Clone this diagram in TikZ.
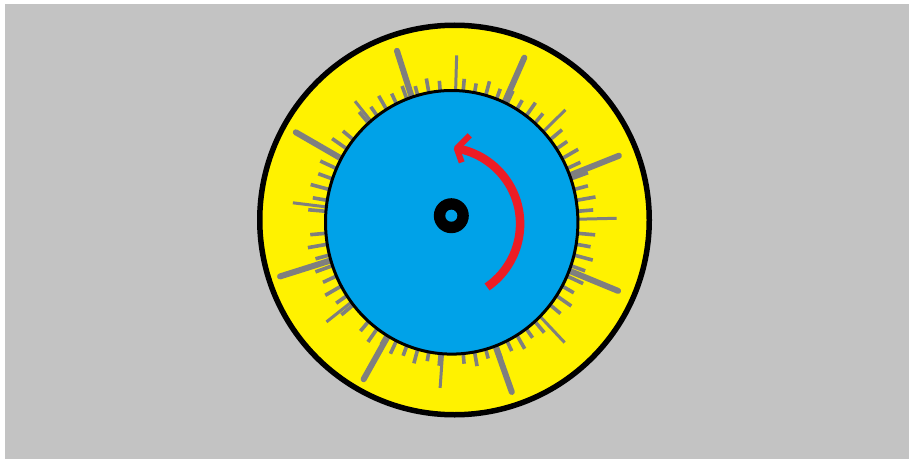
\documentclass[tikz,border=0pt]{standalone}
\usetikzlibrary{calc}
\definecolor{bggray}{HTML}{C3C3C3}
\definecolor{dialyellow}{HTML}{FFF200}
\definecolor{dialblue}{HTML}{00A2E8}
\definecolor{dialred}{HTML}{ED1C24}
\definecolor{tickgray}{HTML}{7F7F7F}
\tikzset{
  tickshort/.style={draw=tickgray, line width=3.6pt},
  tickmid/.style={draw=tickgray, line width=3pt},
  ticklong/.style={draw=tickgray, line width=6pt, line cap=round},
  redarrow/.style={draw=dialred, line width=8.5pt},
}
\begin{document}
\begin{tikzpicture}[x=1pt,y=1pt]
\useasboundingbox (0,0) rectangle (909,459);
\fill[white] (0,0) rectangle (909,459);
\fill[bggray] (5,0) rectangle (909,455);
% outer yellow ring
\filldraw[fill=dialyellow, draw=black, line width=5.5pt] (454.5,239) circle (194.75pt);
\coordinate (c) at (451.7,236.7);
% short ticks every 5 degrees
\foreach \k in {0,45,...,315}{
  \foreach \a/\r in {5/142, 10/146, 15/141, 20/145, 25/142, 30/146, 35/141, 40/144}{
    \draw[tickshort] ($(c)+(\a+\k:126pt)$) -- ($(c)+(\a+\k:\r pt)$);
  }
}
% medium ticks
\foreach \a/\r in {1.4/165, 44.7/160, 88.3/167, 128.6/155, 173/160, 218.5/160, 266/166, 313.2/165}{
  \draw[tickmid] ($(c)+(\a:126pt)$) -- ($(c)+(\a:\r pt)$);
}
% long thick ticks
\foreach \a in {107.7, 66.2, 21.7, -22.4, -70.5, 240.7, 197.5, 150}{
  \draw[ticklong] ($(c)+(\a:126pt)$) -- ($(c)+(\a:180pt)$);
}
% inner blue disc
\filldraw[fill=dialblue, draw=black, line width=3pt] (c) ellipse [x radius=126.2pt, y radius=131.8pt];
% center ring
\coordinate (hub) at (451.3,243.3);
\fill[black] (hub) circle (17.5pt);
\fill[dialblue] (hub) circle (6pt);
% red arrow
\coordinate (arcc) at (443.4,235.1);
\draw[redarrow] ($(arcc)+(-55.3:76.7pt)$) arc[start angle=-55.3, end angle=80, radius=76.7pt] coordinate (tip);
\draw[draw=dialred, line width=6pt, line join=round] ($(tip)+(13,13)$) -- (tip) -- ($(tip)+(5,-14)$);
\end{tikzpicture}
\end{document}
